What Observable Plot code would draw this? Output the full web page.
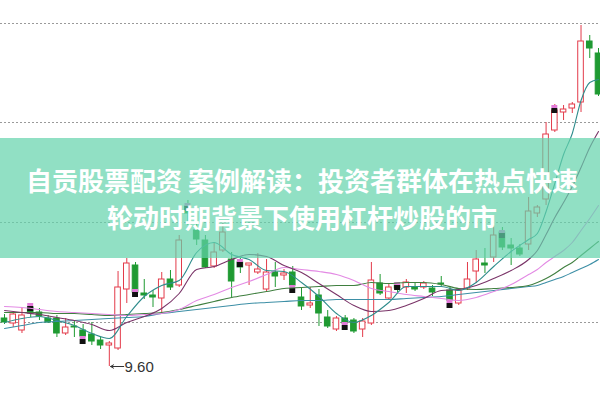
<!DOCTYPE html>
<html><head><meta charset="utf-8">
<script src="https://cdn.jsdelivr.net/npm/d3@7"></script>
<script src="https://cdn.jsdelivr.net/npm/@observablehq/plot@0.6"></script>
<style>
html,body{margin:0;padding:0;background:#fff;}
#wrap{position:relative;width:600px;height:399px;overflow:hidden;}
#chart{position:absolute;left:0;top:0;}
#banner{position:absolute;left:0;top:138px;width:600px;height:120px;background:rgba(99,211,171,0.7);}
.t{position:absolute;left:0;width:604px;text-align:center;color:#fff;font-family:"Noto Sans CJK SC";font-weight:700;font-size:26px;line-height:26px;white-space:nowrap;}
#l1{top:167px;}
#l2{top:204px;}
</style></head><body>
<div id="wrap"><div id="chart"></div><div id="banner"></div><div class="t" id="l1"></div><div class="t" id="l2"></div></div>
<script>
const titleLines = ["自贡股票配资 案例解读：投资者群体在热点快速", "轮动时期背景下使用杠杆炒股的市"];

const opens = [10.08,10.03,9.96,10.19,10.14,10.08,10.08,9.93,10.00,9.96, 9.92,9.86,9.81,9.78,10.37,10.61,10.33,10.31,10.28,10.47, 10.41,11.20,10.96,10.86,10.60,10.76,10.67,10.64,10.61,10.54, 10.37,10.54,10.51,10.54,10.29,10.21,10.31,10.09,9.97,10.08, 10.06,9.97,10.03,10.43,10.28,10.41,10.39,10.39,10.39,10.38, 10.43,10.36,10.23,10.38,10.55,10.63,10.69,10.94,10.81,10.78, 10.82,11.13,11.27,11.96,12.14,12.18,12.24,12.85,12.73];
const closes = [10.04,10.12,10.11,10.13,10.10,10.04,9.93,9.99,9.99,9.90, 9.85,9.81,9.83,10.39,10.63,10.34,10.31,10.29,10.47,10.39, 10.86,11.13,10.87,10.59,10.74,10.94,10.45,10.59,10.63,10.57, 10.54,10.50,10.53,10.41,10.20,10.23,10.13,10.00,10.08,10.03, 9.95,10.05,10.46,10.33,10.39,10.38,10.44,10.37,10.43,10.34, 10.42,10.26,10.36,10.47,10.67,10.61,10.91,10.79,10.78,10.72, 11.15,11.19,11.92,12.16,12.17,12.22,12.85,12.78,12.32];
const highs = [10.12,10.14,10.18,10.23,10.18,10.11,10.11,10.08,10.06,10.02, 10.04,9.89,9.85,10.55,10.68,10.64,10.47,10.36,10.54,10.56, 10.91,11.26,11.03,10.91,10.83,11.03,10.74,10.68,10.63,10.73, 10.67,10.64,10.57,10.60,10.39,10.39,10.37,10.16,10.10,10.11, 10.08,10.08,10.64,10.52,10.43,10.44,10.47,10.44,10.45,10.41, 10.50,10.40,10.38,10.64,10.76,10.78,11.01,10.99,10.88,10.82, 11.29,11.21,12.04,12.22,12.21,12.24,13.01,12.91,12.78];
const lows = [10.02,9.99,9.93,10.09,10.06,10.03,9.89,9.91,9.89,9.82, 9.81,9.77,9.60,9.76,10.23,10.31,10.27,10.19,10.13,10.36, 10.39,11.01,10.81,10.58,10.58,10.74,10.29,10.53,10.41,10.52, 10.35,10.39,10.46,10.33,10.16,10.18,10.00,9.98,9.95,9.97, 9.93,9.89,10.01,10.31,10.26,10.34,10.33,10.35,10.37,10.30, 10.39,10.24,10.21,10.36,10.43,10.53,10.64,10.76,10.61,10.70, 10.76,11.09,11.21,11.94,12.06,12.13,12.14,12.68,12.30];

// moving-average lines, sampled at these candle indices
const maIdx = [0,2,4,6,8,10,12,14,16,18,20,22,24,26,28,30,32,34,36,38,40,42,44,46,48,50,52,54,56,58,60,61,62,63,64,65,66,67,68];
const ma5  = [10.04,10.08,10.10,10.06,10.01,9.93,9.88,10.10,10.30,10.41,10.46,10.74,10.84,10.72,10.67,10.56,10.55,10.44,10.30,10.13,10.04,10.11,10.24,10.40,10.40,10.40,10.36,10.44,10.60,10.75,10.87,10.93,11.15,11.43,11.72,11.93,12.26,12.44,12.47];
const ma10 = [10.16,10.14,10.12,10.09,10.06,10.02,9.96,10.04,10.10,10.18,10.33,10.57,10.60,10.67,10.72,10.70,10.61,10.54,10.43,10.32,10.21,10.15,10.16,10.21,10.28,10.36,10.37,10.41,10.48,10.56,10.67,10.76,10.92,11.09,11.24,11.40,11.59,11.79,11.95];
const ma20 = [10.20,10.19,10.17,10.15,10.14,10.13,10.12,10.11,10.12,10.13,10.17,10.26,10.32,10.39,10.45,10.52,10.59,10.57,10.55,10.52,10.46,10.38,10.35,10.32,10.30,10.28,10.26,10.29,10.35,10.42,10.52,10.57,10.64,10.70,10.76,10.84,10.96,11.08,11.21];
const ma30 = [10.14,10.14,10.14,10.13,10.13,10.12,10.11,10.12,10.13,10.14,10.17,10.21,10.25,10.29,10.32,10.35,10.38,10.39,10.40,10.41,10.41,10.44,10.43,10.44,10.44,10.42,10.38,10.37,10.38,10.39,10.41,10.44,10.48,10.53,10.59,10.64,10.71,10.78,10.85];
const ma60 = [9.98,10.01,10.04,10.05,10.06,10.07,10.08,10.09,10.10,10.13,10.15,10.17,10.19,10.21,10.23,10.24,10.25,10.26,10.26,10.27,10.27,10.27,10.27,10.28,10.29,10.30,10.32,10.34,10.36,10.38,10.40,10.41,10.44,10.47,10.50,10.54,10.58,10.62,10.67];

// small black/pink flags drawn on every sixth candle
const flagIdx = [3,9,15,21,27,33,39,45,51,57,63];
const flagPrice = [10.20,9.87,10.34,11.20,10.64,10.38,10.01,10.41,10.23,10.93,12.18];

const gridPrices = [10.04, 11.04, 12.04, 13.03];

const maSeries = [
  {name:"MA60", values: ma60, color:"#3d8fa6"},
  {name:"MA30", values: ma30, color:"#3f7f3f"},
  {name:"MA20", values: ma20, color:"#e38ae4"},
  {name:"MA10", values: ma10, color:"#7a3468"},
  {name:"MA5",  values: ma5,  color:"#2f8c8c"}
];

const UP = "#e33b4a", DOWN = "#1f9a32";
const candles = opens.map((o, i) => ({i, o, c: closes[i], h: highs[i], l: lows[i], up: closes[i] >= o}));
const lineData = maSeries.flatMap(s => maIdx.map((i, k) => ({i, v: s.values[k], name: s.name})));
const flags = flagIdx.map((i, k) => ({i, v: flagPrice[k]}));
const lowI = d3.minIndex(lows);
const lowPt = [{i: lowI, v: lows[lowI]}];

const plot = Plot.plot({
  width: 600, height: 399,
  marginTop: 0, marginBottom: 0, marginLeft: 0, marginRight: 0,
  x: {domain: [0, 68], range: [4, 598], axis: null},
  y: {domain: [9.27, 13.26], axis: null},
  color: {domain: maSeries.map(s => s.name), range: maSeries.map(s => s.color)},
  marks: [
    Plot.ruleY(gridPrices, {stroke: "#9a9a9a", strokeDasharray: "2,2", strokeWidth: 1}),
    Plot.ruleX(candles, {x: "i", y1: "l", y2: "h", stroke: d => d.up ? UP : DOWN, strokeWidth: 1}),
    Plot.rect(candles, {
      x1: d => d.i - 0.32, x2: d => d.i + 0.32,
      y1: d => Math.min(d.o, d.c), y2: d => Math.max(d.o, d.c),
      fill: d => d.up ? "#ffffff" : DOWN,
      stroke: d => d.up ? UP : DOWN, strokeWidth: 1
    }),
    Plot.rect(flags, {x1: d => d.i - 0.34, x2: d => d.i + 0.34, y1: d => d.v + 0.03, y2: "v", fill: "#e27ad8"}),
    Plot.rect(flags, {x1: d => d.i - 0.34, x2: d => d.i + 0.34, y1: d => d.v - 0.05, y2: "v", fill: "#111111"}),
    Plot.line(lineData, {x: "i", y: "v", z: "name", stroke: "name", strokeWidth: 1.1, curve: "monotone-x"}),
    Plot.arrow(lowPt, {x1: d => d.i + 1.65, x2: d => d.i + 0.15, y1: "v", y2: "v", stroke: "#333", strokeWidth: 1, headLength: 5}),
    Plot.text(lowPt, {x: d => d.i + 1.75, y: "v", text: d => d3.format(".2f")(d.v), textAnchor: "start", fontSize: 15, fill: "#333", fontFamily: "Liberation Sans", dy: 1})
  ]
});
document.getElementById("chart").appendChild(plot);
document.getElementById("l1").textContent = titleLines[0];
document.getElementById("l2").textContent = titleLines[1];
</script>
</body></html>
